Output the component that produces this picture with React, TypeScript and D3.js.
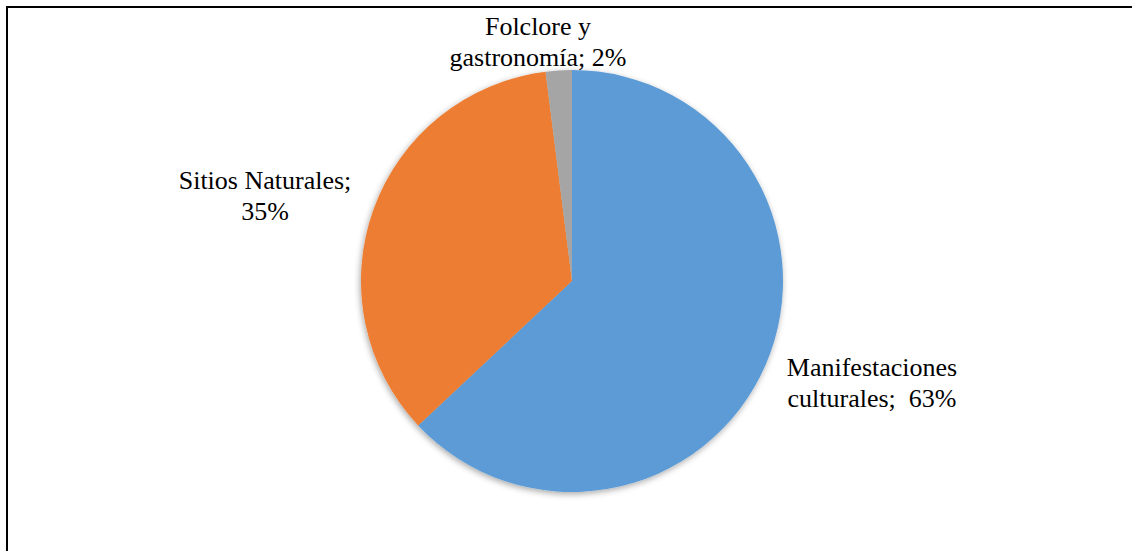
import React from "react";
import * as d3 from "d3";

const categories = ["Manifestaciones culturales", "Sitios Naturales", "Folclore y gastronomía"];
const values = [63, 35, 2];
const labelLines = [
  ["Manifestaciones", "culturales;  63%"],
  ["Sitios Naturales;", "35%"],
  ["Folclore y", "gastronomía; 2%"],
];
const colors = ["#5B9BD5", "#ED7D31", "#A5A5A5"];

const W = 1132;
const H = 551;
const cx = 572;
const cy = 281;
const R = 211;
// label layout (center x, first baseline y)
const labelPos = [
  { x: 872, y: 376 },
  { x: 265, y: 189 },
  { x: 538, y: 35 },
];

export default function App() {
  const pie = d3.pie<number>().sort(null).value((d) => d);
  const arcs = pie(values);
  const arc = d3.arc<d3.PieArcDatum<number>>().innerRadius(0).outerRadius(R);
  return (
    <svg
      width={W}
      height={H}
      style={{ position: "absolute", left: 0, top: 0, background: "#fff" }}
      fontFamily="'Liberation Serif', 'Times New Roman', serif"
    >
      <defs>
        <filter id="sh" x="-20%" y="-20%" width="140%" height="140%">
          <feDropShadow dx="-1" dy="2" stdDeviation="3" floodColor="#000" floodOpacity="0.35" />
        </filter>
      </defs>
      <rect x={7} y={7} width={W + 20} height={H + 20} fill="none" stroke="#000" strokeWidth={2} />
      <g transform={`translate(${cx},${cy})`} filter="url(#sh)">
        {arcs.map((a, i) => (
          <path key={categories[i]} d={arc(a) || ""} fill={colors[i]} />
        ))}
      </g>
      {labelLines.map((lines, i) => (
        <text key={i} textAnchor="middle" fontSize={26} fill="#000">
          {lines.map((l, j) => (
            <tspan key={j} x={labelPos[i].x} y={labelPos[i].y + j * 30.5} style={{ whiteSpace: "pre" }}>
              {l}
            </tspan>
          ))}
        </text>
      ))}
    </svg>
  );
}
